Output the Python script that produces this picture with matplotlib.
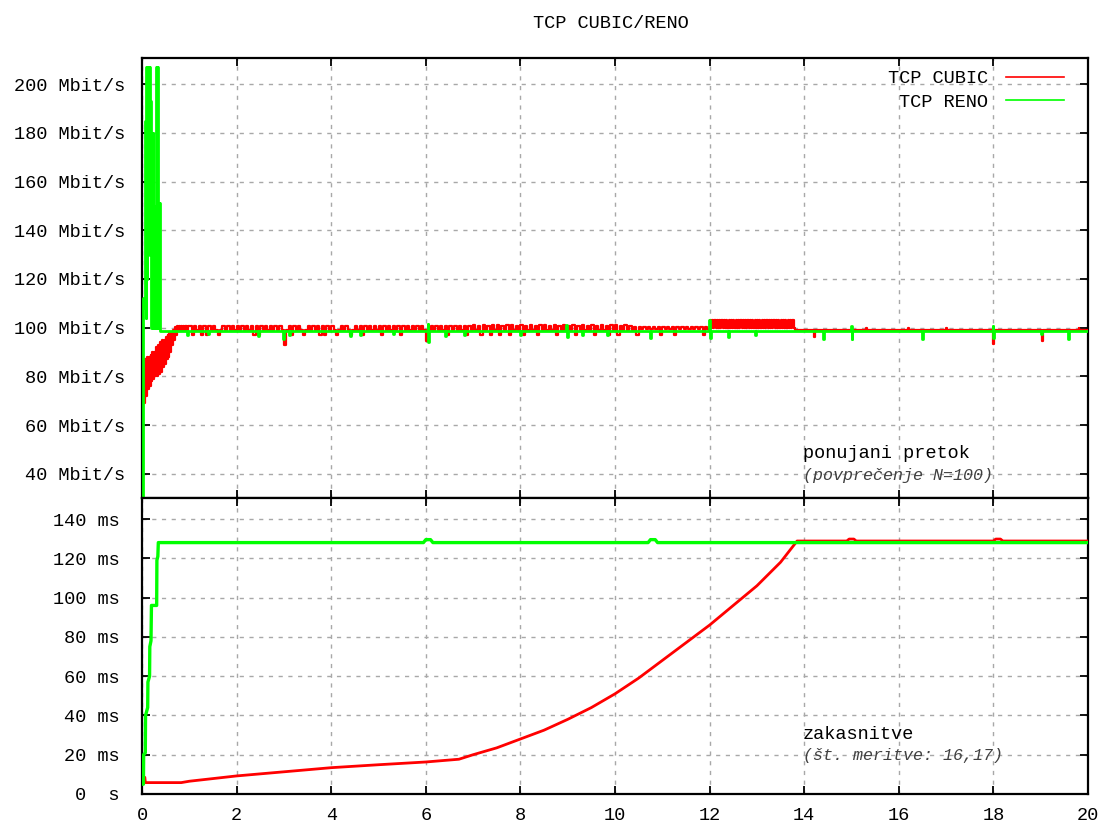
import numpy as np
import matplotlib
matplotlib.use("Agg")
import matplotlib.pyplot as plt
from matplotlib.lines import Line2D

plt.rcParams['font.family'] = ['Liberation Mono', 'DejaVu Sans Mono']

RED = '#ff0000'
GREEN = '#00ff00'

# ---- throughput, TCP CUBIC (Mbit/s) ----
# start-up ramp, sampled every 0.02 s from t = 0.04 s
cubic_ramp = [69, 87, 72, 88, 75, 88, 76, 89, 78, 90,
              79, 90, 80, 92, 80, 93, 81, 94, 82, 95,
              84, 95, 85, 96, 87, 97, 88, 98, 90, 98,
              93, 99, 95, 100.5, 97, 100.8, 99, 100.8, 99, 100.8,
              99, 100.8, 99, 100.8, 99, 100.8, 99, 100.8]
# steady state, sampled every 0.05 s from t = 1.0 s (one row per second)
cubic_band = """
100.8 97 100.8 99 100.8 97 100.8 97 100.8 99 100.8 99 97 99 100.8 99 100.8 99 100.8 99
100.8 99 100.8 99 100.8 99 100.8 97 100.8 97 100.8 99 100.8 99 100.8 99 100.8 99 100.8 99
93 99 100.8 97 100.8 99 100.8 99 97 99 100.8 99 100.8 99 100.8 97 100.8 97 100.8 99
100.8 99 97 99 100.8 99 100.8 99 97 99 100.8 99 100.8 97 100.8 99 100.8 99 100.8 99
100.8 97 100.8 99 100.8 99 100.8 99 100.8 97 100.8 99 100.8 99 100.8 99 100.8 99 100.8 99
94.5 99 100.8 99 100.8 99 100.8 99 100.8 97 100.8 99 100.8 99 100.8 99 100.8 97 100.8 99
101.3 99 100.8 97 101.3 99 100.8 97 101.3 99 101.3 97 100.8 99 101.3 97 101.3 99 100.8 99
101.3 97 100.8 99 101.3 99 100.8 97 101.3 99 101.3 99 100.8 99 101.3 97 100.8 99 101.3 99
100.8 99 101.3 97 100.8 99 101.3 99 100.8 99 101.3 97 100.8 99 101.3 99 100.8 97 101.3 99
101.3 97 100.8 99 101.3 99 100.8 99 100.4 97 100.4 99.6 100.4 99.6 100.4 99.6 100.4 99.6 100.4 97
100.4 99.6 100.4 99.6 100.4 97 100.4 99.6 100.4 99.6 100.4 99.6 100.4 99.6 100.4 99.6 100.4 97 100.4 99.6
"""
# higher plateau, sampled every 0.025 s from t = 12.0 s
cubic_plateau = """
103 100 103 100 103 100 103 100 103 100 103 100 103 100 103 100 103 100 103 100
103 100 103 100 103 100 103 100 103 100 103 100 103 100 103 100 103 100 103 100
103 100 103 100 103 100 103 100 103 100 103 100 103 100 103 100 103 100 103 100
103 100 103 100 103 100 103 100 103 100 103 100
"""
cubic_tail_t = [13.8, 14.2, 14.22, 15.3, 15.32, 16.2, 16.22, 17.0, 17.02,
                18.0, 18.02, 19.03, 19.05, 19.8, 19.82, 20.0]
cubic_tail = [99, 96.3, 99, 99.8, 99, 99.8, 99, 99.8, 99,
              93.4, 99, 94.7, 99, 99.8, 99, 99]

# ---- throughput, TCP RENO (Mbit/s) ----
reno_rate_t = [0.025, 0.03, 0.05, 0.06, 0.08, 0.09, 0.10, 0.11, 0.12, 0.13,
               0.14, 0.15, 0.16, 0.17, 0.18, 0.19, 0.20, 0.21, 0.22, 0.23,
               0.24, 0.25, 0.26, 0.27, 0.28, 0.29, 0.30, 0.31, 0.32, 0.33,
               0.34, 0.35, 0.36, 0.37, 0.38,
               0.95, 0.97, 1.4, 1.42, 2.45, 2.47, 2.98, 3.0, 3.1, 3.12,
               4.4, 4.42, 4.6, 4.62, 5.3, 5.32, 6.04, 6.05, 6.07,
               6.4, 6.42, 6.8, 6.82, 8.0, 8.02, 8.97, 8.98, 9.0,
               9.3, 9.32, 9.83, 9.85, 10.74, 10.76, 11.99, 12.0, 12.02,
               12.39, 12.41, 12.96, 12.98, 14.4, 14.42, 14.99, 15.0, 15.02,
               16.5, 16.52, 17.99, 18.0, 18.02, 19.0, 19.02, 19.58, 19.6, 20.0]
reno_rate = [0, 112, 108, 185, 104, 207, 120, 207, 160, 207,
             185, 207, 130, 193, 110, 175, 100, 165, 112, 180,
             100, 150, 104, 140, 100, 120, 207, 100, 207, 118,
             151, 100, 151, 99, 98.8,
             97, 98.8, 97.5, 98.8, 96.5, 98.8, 95.5, 98.8, 97, 98.8,
             96.5, 98.8, 97, 98.8, 97.5, 98.8, 101.5, 94, 98.8,
             96.5, 98.8, 97, 98.8, 97, 98.8, 101, 96, 98.8,
             97, 98.8, 97, 98.8, 95.7, 98.8, 103, 95.7, 98.8,
             96, 98.8, 97, 98.8, 95.2, 98.8, 100.8, 95.5, 98.8,
             95.5, 98.8, 100.8, 95.8, 98.8, 97.5, 98.8, 95.5, 98.8, 98.8]

# ---- delay (ms) ----
cubic_delay_t = [0.0, 0.03, 0.04, 0.06, 0.07, 0.83, 1.0, 2.0, 3.0, 4.0, 5.0,
                 6.0, 6.7, 7.0, 7.5, 8.0, 8.5, 9.0, 9.5, 10.0, 10.5, 11.0,
                 11.5, 12.0, 12.5, 13.0, 13.5, 13.85, 14.9, 14.95, 15.05,
                 15.1, 18.0, 18.05, 18.15, 18.2, 20.0]
cubic_delay = [5.8, 5.8, 8.5, 8.5, 5.8, 5.8, 6.5, 9.2, 11.3, 13.4, 14.9,
               16.3, 17.7, 20, 23.5, 28, 32.5, 38, 44, 51, 59, 68,
               77, 86, 96, 106, 118, 128.8, 128.8, 129.8, 129.8,
               128.8, 128.8, 129.8, 129.8, 128.8, 128.8]
reno_delay_t = [0.0, 0.03, 0.035, 0.07, 0.075, 0.12, 0.125, 0.16, 0.165, 0.19,
                0.2, 0.31, 0.315, 0.335, 0.345, 5.95, 6.0, 6.1, 6.15,
                10.7, 10.75, 10.85, 10.9, 20.0]
reno_delay = [5, 5, 20, 21, 40, 44, 57, 60, 75, 78,
              96, 96, 119, 121, 128, 128, 129.5, 129.5, 128,
              128, 129.5, 129.5, 128, 128]

x_ticks = list(range(0, 21, 2))
rate_ticks = list(range(40, 201, 20))
delay_ticks = list(range(0, 141, 20))

# assemble the CUBIC throughput series
ramp_vals = np.array(cubic_ramp, dtype=float)
ramp_t = 0.04 + 0.02 * np.arange(len(ramp_vals))
band_vals = np.array(cubic_band.split(), dtype=float)
band_t = 1.0 + 0.05 * np.arange(len(band_vals))
plat_vals = np.array(cubic_plateau.split(), dtype=float)
plat_t = 12.0 + 0.025 * np.arange(len(plat_vals))
cubic_t = np.concatenate([ramp_t, band_t, plat_t, cubic_tail_t])
cubic_v = np.concatenate([ramp_vals, band_vals, plat_vals, cubic_tail])

fig = plt.figure(figsize=(11.02, 8.24), dpi=100)
W, H = 1102, 824
ax1 = fig.add_axes([142 / W, 1 - 498 / H, 946 / W, 440 / H])
ax2 = fig.add_axes([142 / W, 1 - 794 / H, 946 / W, 296 / H])

FS = 13.4
grid_kw = dict(color='#a8a8a8', linewidth=1.0, linestyle=(0, (3, 4)))

for ax in (ax1, ax2):
    ax.set_xlim(0, 20)
    ax.set_xticks(x_ticks)
    ax.grid(True, **grid_kw)
    ax.set_axisbelow(True)
    ax.tick_params(direction='in', length=6, width=1.3, top=True, right=True,
                   labelsize=FS, colors='black')
    for s in ax.spines.values():
        s.set_linewidth(1.6)
        s.set_color('black')

# throughput panel
ax1.plot(cubic_t, cubic_v, drawstyle='steps-post', color=RED, lw=1.6, zorder=3)
ax1.plot(reno_rate_t, reno_rate, drawstyle='steps-post', color=GREEN, lw=2.0, zorder=4)
ax1.set_ylim(30.15, 210.67)
ax1.set_yticks(rate_ticks)
ax1.set_yticklabels([f"{v} Mbit/s" for v in rate_ticks])
ax1.tick_params(axis='x', labelbottom=False)
ax1.tick_params(axis='y', pad=12)

ax1.text(13.97, 48.6, 'ponujani pretok', ha='left', va='center', fontsize=FS)
ax1.text(13.97, 39.3, '(povprečenje N=100)', ha='left', va='center',
         fontsize=12, style='italic', color='#404040')

handles = [Line2D([], [], color=RED, lw=1.2), Line2D([], [], color=GREEN, lw=1.2)]
ax1.legend(handles, ['TCP CUBIC', 'TCP RENO'], loc='upper right',
           bbox_to_anchor=((1064 - 142) / 946, (498 - 70) / 440),
           markerfirst=False, frameon=False, fontsize=FS, handlelength=3.1,
           handletextpad=1.0, labelspacing=0.36, borderpad=0, borderaxespad=0)

# delay panel
ax2.plot(cubic_delay_t, cubic_delay, color=RED, lw=2.0, zorder=3)
ax2.plot(reno_delay_t, reno_delay, color=GREEN, lw=2.4, zorder=4)
ax2.set_ylim(0, 150.7)
ax2.set_yticks(delay_ticks)
ax2.set_yticklabels([f"{v} ms" if v else "0  s" for v in delay_ticks])
ax2.tick_params(axis='y', pad=16)
ax2.tick_params(axis='x', pad=9)

ax2.text(13.97, 30.2, 'zakasnitve', ha='left', va='center', fontsize=FS)
ax2.text(13.97, 19.4, '(št. meritve: 16,17)', ha='left', va='center',
         fontsize=12, style='italic', color='#404040')

fig.text(610.5 / W, 1 - 23 / H, 'TCP CUBIC/RENO', ha='center', va='center', fontsize=FS)

fig.savefig('out.png', dpi=100, facecolor='white')
